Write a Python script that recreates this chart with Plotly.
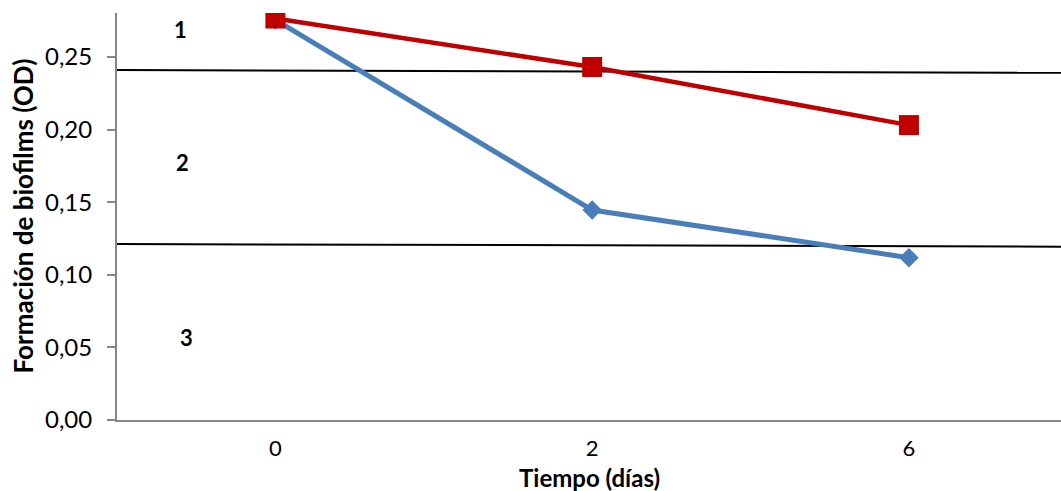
import plotly.graph_objects as go

# Sampling days and measured biofilm formation (OD)
days = ["0", "2", "6"]
serie_azul = [0.2755, 0.1446, 0.1118]
serie_roja = [0.2765, 0.2431, 0.2031]

# Category boundary lines (start / end values across the plot)
limite_superior = [0.2410, 0.2391]
limite_inferior = [0.1212, 0.1194]

# Zone labels
zonas = ["1", "2", "3"]
zonas_y = [0.269, 0.177, 0.0565]
zonas_x = [-0.30, -0.292, -0.282]

font_family = "Lato, 'Open Sans', sans-serif"
axis_grey = "#868686"

x_pos = list(range(len(days)))

fig = go.Figure()

fig.add_trace(go.Scatter(
    x=x_pos, y=serie_azul, mode="lines+markers",
    line=dict(color="#4a7ebb", width=5),
    marker=dict(symbol="diamond", size=15, color="#4a7ebb"),
    showlegend=False,
))
fig.add_trace(go.Scatter(
    x=x_pos, y=serie_roja, mode="lines+markers",
    line=dict(color="#c00000", width=4.5),
    marker=dict(symbol="square", size=20, color="#c00000"),
    showlegend=False,
))

x_lo, x_hi = -0.5, 2.48
for lim in (limite_superior, limite_inferior):
    fig.add_shape(type="line", xref="x", yref="y",
                  x0=x_lo, x1=x_hi, y0=lim[0], y1=lim[1],
                  line=dict(color="black", width=2), layer="below")

for txt, xx, yy in zip(zonas, zonas_x, zonas_y):
    fig.add_annotation(x=xx, y=yy, xref="x", yref="y", text=f"<b>{txt}</b>",
                       showarrow=False, font=dict(size=22, color="black", family=font_family))

# Axis titles
fig.add_annotation(x=0.5, y=0, xref="paper", yref="paper", yanchor="middle",
                   yshift=-57, text="<b>Tiempo (días)</b>", showarrow=False,
                   font=dict(size=24, color="black", family=font_family))
fig.add_annotation(x=0, y=0.5, xref="paper", yref="paper", xanchor="center",
                   xshift=-95, textangle=-90, text="<b>Formación de biofilms (OD)</b>",
                   showarrow=False, font=dict(size=26, color="black", family=font_family))

fig.update_layout(
    width=1061, height=491,
    margin=dict(l=117, r=0, t=13, b=71),
    paper_bgcolor="white", plot_bgcolor="white",
    separators=",.",
    font=dict(family=font_family, color="black", size=24),
    xaxis=dict(
        range=[x_lo, x_hi],
        tickmode="array", tickvals=x_pos, ticktext=days,
        tickfont=dict(size=22),
        showgrid=False, zeroline=False,
        showline=True, linecolor=axis_grey, linewidth=2,
        ticks="", ticklabelstandoff=8,
    ),
    yaxis=dict(
        range=[0, 0.2803],
        tickmode="array", tickvals=[0, 0.05, 0.10, 0.15, 0.20, 0.25],
        tickformat=".2f",
        showgrid=False, zeroline=False,
        showline=True, linecolor=axis_grey, linewidth=2,
        ticks="outside", ticklen=8, tickcolor=axis_grey, tickwidth=2,
        ticklabelstandoff=10,
    ),
)

fig.write_html("out.html")
